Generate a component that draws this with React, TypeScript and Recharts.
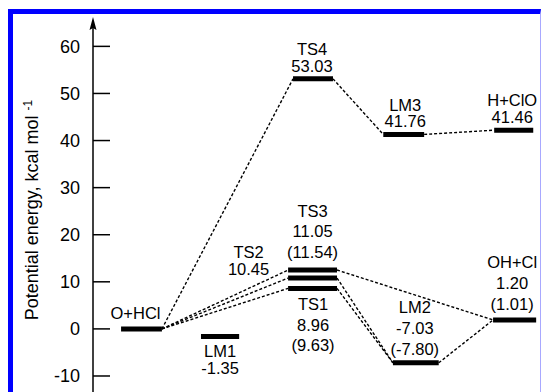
import React from 'react'
import { ComposedChart, Line, Scatter, XAxis, YAxis, Label } from 'recharts'

// species on the energy diagram
const species = ['O+HCl', 'LM1', 'TS1', 'TS2', 'TS3', 'TS4', 'LM3', 'H+ClO', 'LM2', 'OH+Cl']
// level heights as drawn (kcal/mol)
const drawnEnergy = [0, -1.6, 8.6, 10.8, 12.5, 53.1, 41.3, 42.2, -7.2, 1.9]
// printed values
const valueText = ['', '-1.35', '8.96', '10.45', '11.05', '53.03', '41.76', '41.46', '-7.03', '1.20']
const altText = ['', '', '(9.63)', '', '(11.54)', '', '', '', '(-7.80)', '(1.01)']
// reaction paths (from level -> to level)
const paths: [number, number][] = [
  [0, 5], [0, 2], [0, 3], [0, 4], [5, 6], [6, 7], [4, 9], [3, 8], [2, 8], [8, 9],
]
const yTicks = [-10, 0, 10, 20, 30, 40, 50, 60]

// layout: reaction coordinate of each level (centre, width) and label placement
const coord = [10.8, 28.3, 48.9, 48.9, 48.9, 49.0, 69.2, 93.7, 71.9, 93.9]
const span = [9.1, 8.5, 10.9, 10.9, 10.9, 8.9, 9.1, 8.7, 10.2, 9.6]
const labelLayout = [
  { side: 'above', gap: 16, step: 0, dx: -6 },
  { side: 'below', gap: 15, step: 16.5, dx: 0 },
  { side: 'below', gap: 16, step: 20.5, dx: 0.5 },
  { side: 'above', gap: 9, step: 16.5, dx: -64 },
  { side: 'above', gap: 18, step: 20.5, dx: 0 },
  { side: 'above', gap: 13, step: 16.5, dx: -1 },
  { side: 'above', gap: 13, step: 16.5, dx: 1.5 },
  { side: 'above', gap: 13.5, step: 16.5, dx: -1.5 },
  { side: 'above', gap: 14, step: 21, dx: -1 },
  { side: 'above', gap: 16, step: 21, dx: -2.5 },
]

const FONT = "Arial, 'Liberation Sans', Helvetica, sans-serif"

const levels = species.map((name, i) => ({
  name,
  left: coord[i] - span[i] / 2,
  right: coord[i] + span[i] / 2,
  y: drawnEnergy[i],
}))

const labelPoints = species.map((name, i) => ({
  x: coord[i],
  y: drawnEnergy[i],
  lines: [name, valueText[i], altText[i]].filter((s) => s !== ''),
  layout: labelLayout[i],
}))

const LevelLabel = (props: any) => {
  const { cx, cy, payload } = props
  const { lines, layout } = payload
  const n = lines.length
  return (
    <g>
      {lines.map((t: string, k: number) => {
        const ty =
          layout.side === 'above'
            ? cy - layout.gap - (n - 1 - k) * layout.step
            : cy + layout.gap + k * layout.step
        return (
          <text
            key={k}
            x={cx + layout.dx}
            y={ty}
            dy="0.36em"
            textAnchor="middle"
            fontSize={16.5}
            fontFamily={FONT}
            fill="#000"
          >
            {t}
          </text>
        )
      })}
    </g>
  )
}

const YTitle = (props: any) => {
  const vb = props.viewBox
  const cx = 38
  const cy = vb.y + vb.height / 2
  return (
    <text
      x={cx}
      y={cy}
      transform={`rotate(-90 ${cx} ${cy})`}
      textAnchor="middle"
      fontSize={18}
      fontFamily={FONT}
      fill="#000"
    >
      Potential energy, kcal mol{' '}
      <tspan fontSize={12} dy={-6}>
        -1
      </tspan>
    </text>
  )
}

export default function App() {
  return (
    <div style={{ position: 'absolute', left: 0, top: 0, width: 542, height: 392, background: '#fff' }}>
      <div
        style={{
          position: 'absolute',
          left: 8,
          top: 9,
          width: 533,
          height: 383,
          boxSizing: 'border-box',
          borderTop: '5px solid #0000ff',
          borderLeft: '5px solid #0000ff',
          borderRight: '1px solid #a8a8ff',
        }}
      />
      <div style={{ position: 'absolute', left: 0, top: 0 }}>
        <ComposedChart width={542} height={392} margin={{ top: 28, right: 0, bottom: 0, left: 0 }}>
          <defs>
            <marker
              id="yArrow"
              markerUnits="userSpaceOnUse"
              markerWidth={8}
              markerHeight={14}
              viewBox="0 0 8 14"
              refX={4}
              refY={11}
              orient="0"
            >
              <path d="M4,0 L7.5,13 L4,11 L0.5,13 Z" fill="#000" />
            </marker>
          </defs>
          <XAxis type="number" dataKey="x" domain={[0, 100]} hide allowDataOverflow />
          <YAxis
            type="number"
            dataKey="y"
            domain={[-13.4, 63.9]}
            ticks={yTicks}
            width={93}
            allowDataOverflow
            tickSize={-17}
            tickMargin={30}
            interval={0}
            tick={{ fontSize: 18, fontFamily: FONT, fill: '#000' }}
            tickLine={{ stroke: '#000', strokeWidth: 1.5 }}
            axisLine={{ stroke: '#000', strokeWidth: 1.5, markerStart: 'url(#yArrow)' }}
            label={<Label content={YTitle} />}
          />
          {paths.map(([a, b], i) => (
            <Line
              key={`p${i}`}
              data={[
                { x: levels[a].right, y: levels[a].y },
                { x: levels[b].left, y: levels[b].y },
              ]}
              dataKey="y"
              type="linear"
              stroke="#000"
              strokeWidth={1.4}
              strokeDasharray="3 2"
              dot={false}
              activeDot={false}
              isAnimationActive={false}
            />
          ))}
          {levels.map((lv, i) => (
            <Line
              key={`l${i}`}
              data={[
                { x: lv.left, y: lv.y },
                { x: lv.right, y: lv.y },
              ]}
              dataKey="y"
              type="linear"
              stroke="#000"
              strokeWidth={5}
              dot={false}
              activeDot={false}
              isAnimationActive={false}
            />
          ))}
          <Scatter data={labelPoints} dataKey="y" shape={LevelLabel} isAnimationActive={false} />
        </ComposedChart>
      </div>
    </div>
  )
}
